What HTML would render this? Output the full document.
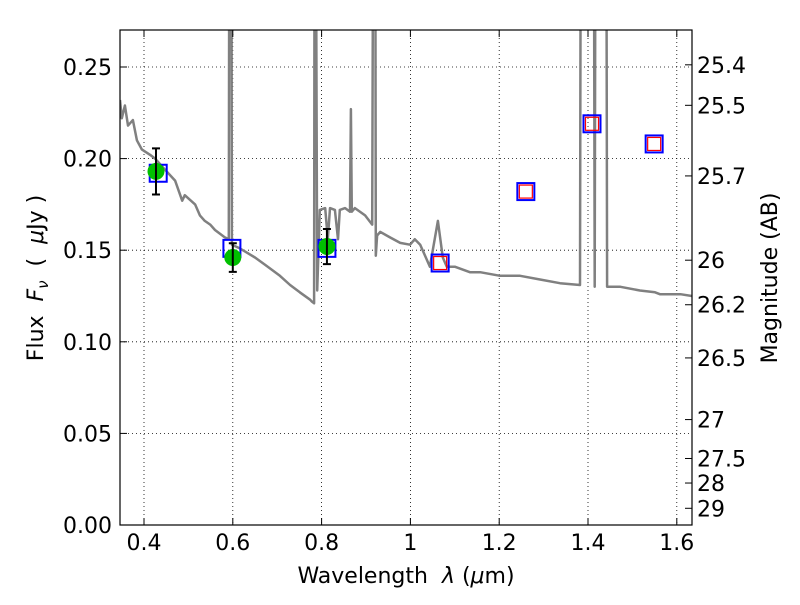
<!DOCTYPE html>
<html><head><meta charset="utf-8"><style>
html,body{margin:0;padding:0;background:#fff;}
svg text{font-family:"DejaVu Sans","Liberation Sans",sans-serif;fill:#000;}
</style></head><body>
<svg id="chart" width="800" height="600" viewBox="0 0 800 600" xmlns="http://www.w3.org/2000/svg">
<defs><clipPath id="plotclip"><rect x="120" y="30" width="572" height="495"/></clipPath></defs>
<rect x="0" y="0" width="800" height="600" fill="#fff"/>
<g id="grid"></g>
<g id="spec" clip-path="url(#plotclip)"></g>
<g id="marks" clip-path="url(#plotclip)"></g>
<rect x="120" y="30" width="572" height="495" fill="none" stroke="#000" stroke-width="1.2"/>
<g id="axes"></g>
<text x="406" y="583" text-anchor="middle" font-size="22">Wavelength&#160;&#160;<tspan font-style="italic">λ</tspan>&#160;(<tspan font-style="italic">μ</tspan>m)</text>
<text transform="translate(43,278) rotate(-90)" text-anchor="middle" font-size="22">Flux&#160;&#160;<tspan font-style="italic">F</tspan><tspan font-style="italic" font-size="15" dy="5">ν</tspan><tspan dy="-5">&#160;&#160;(&#160;&#160;</tspan><tspan font-style="italic">μ</tspan>Jy&#160;)</text>
<text transform="translate(777,278) rotate(-90)" text-anchor="middle" font-size="22">Magnitude (AB)</text>
</svg>
<script>
const specLam=[0.346,0.350,0.357,0.364,0.375,0.384,0.395,0.414,0.425,0.447,0.470,0.486,0.492,0.515,0.526,0.537,0.549,0.560,0.582,0.591,0.593,0.596,0.598,0.616,0.650,0.673,0.706,0.729,0.751,0.774,0.778,0.783,0.785,0.790,0.796,0.808,0.814,0.819,0.830,0.837,0.841,0.853,0.864,0.866,0.868,0.875,0.898,0.914,0.918,0.920,0.922,0.925,0.932,0.954,0.977,0.999,1.010,1.022,1.044,1.062,1.073,1.082,1.100,1.134,1.157,1.202,1.247,1.292,1.337,1.382,1.385,1.387,1.412,1.415,1.418,1.440,1.443,1.446,1.473,1.517,1.551,1.562,1.608,1.634];
const specFlux=[0.232,0.222,0.229,0.218,0.221,0.210,0.205,0.202,0.200,0.194,0.188,0.177,0.180,0.175,0.169,0.166,0.164,0.161,0.157,0.156,0.5,0.5,0.153,0.151,0.146,0.142,0.136,0.131,0.127,0.123,0.122,0.121,0.5,0.128,0.172,0.173,0.156,0.173,0.172,0.156,0.172,0.173,0.171,0.227,0.171,0.173,0.169,0.164,0.5,0.5,0.147,0.158,0.160,0.157,0.154,0.153,0.156,0.153,0.141,0.166,0.146,0.141,0.141,0.138,0.138,0.136,0.136,0.134,0.132,0.131,0.5,0.5,0.5,0.13,0.5,0.5,0.13,0.130,0.130,0.128,0.127,0.126,0.126,0.125];
const photLam=[0.427,0.600,0.812];
const photFlux=[0.193,0.146,0.152];
const photErr=[0.0126,0.0078,0.0096];
const obsLam=[0.432,0.598,0.812,1.067,1.260,1.409,1.549];
const obsFlux=[0.192,0.151,0.151,0.143,0.182,0.219,0.208];
const modLam=[1.067,1.260,1.409,1.549];
const modFlux=[0.143,0.182,0.219,0.208];
const xTicks=[0.4,0.6,0.8,1.0,1.2,1.4,1.6];
const xTickLabels=["0.4","0.6","0.8","1","1.2","1.4","1.6"];
const yTicks=[0,0.05,0.10,0.15,0.20,0.25];
const yTickLabels=["0.00","0.05","0.10","0.15","0.20","0.25"];
const magTicks=[25.4,25.5,25.7,26,26.2,26.5,27,27.5,28,29];
const magLabels=["25.4","25.5","25.7","26","26.2","26.5","27","27.5","28","29"];

const NS="http://www.w3.org/2000/svg";
const X=l=>144+(l-0.4)*444;
const Y=f=>525-f*1832;
function mk(tag,attrs,parent){const e=document.createElementNS(NS,tag);for(const k in attrs)e.setAttribute(k,attrs[k]);parent.appendChild(e);return e;}
const grid=document.getElementById('grid'),axes=document.getElementById('axes'),spec=document.getElementById('spec'),marks=document.getElementById('marks');
xTicks.forEach((t,i)=>{
  const x=X(t);
  const g=mk('line',{x1:x,x2:x,y1:30,y2:525,stroke:'#000','stroke-width':0.8,'stroke-dasharray':'1,3'},grid);
  
  
  mk('line',{x1:x,x2:x,y1:525,y2:518,stroke:'#000'},axes);
  mk('line',{x1:x,x2:x,y1:30,y2:37,stroke:'#000'},axes);
  const tx=mk('text',{x:x,y:550,'text-anchor':'middle','font-size':'22'},axes);
  tx.textContent=xTickLabels[i];
  
  
});
yTicks.forEach((t,i)=>{
  const y=Y(t);
  const g=mk('line',{x1:120,x2:692,y1:y,y2:y,stroke:'#000','stroke-width':0.8,'stroke-dasharray':'1,3'},grid);
  
  
  mk('line',{x1:120,x2:127,y1:y,y2:y,stroke:'#000'},axes);
  const tx=mk('text',{x:112,y:y+8,'text-anchor':'end','font-size':'22'},axes);
  tx.textContent=yTickLabels[i];
  
  
});
magTicks.forEach((m,i)=>{
  const y=Y(Math.pow(10,-0.4*(m-23.9)));
  mk('line',{x1:685,x2:692,y1:y,y2:y,stroke:'#000'},axes);
  const tx=mk('text',{x:697,y:y+8,'font-size':'22'},axes);
  tx.textContent=magLabels[i];
  
  
});
let d='';
specLam.forEach((l,i)=>{d+=(i?'L':'M')+X(l).toFixed(1)+','+Y(specFlux[i]).toFixed(1);});
const p=mk('path',{d:d,fill:'none',stroke:'#808080','stroke-width':2.5,'stroke-linejoin':'round'},spec);


obsLam.forEach((l,i)=>{
  const r=mk('rect',{x:X(l)-8.5,y:Y(obsFlux[i])-8.5,width:17,height:17,fill:'none',stroke:'#0000ff','stroke-width':2},marks);
  
  
});
modLam.forEach((l,i)=>{
  const r=mk('rect',{x:X(l)-6.5,y:Y(modFlux[i])-6.5,width:13,height:13,fill:'none',stroke:'#ff0000','stroke-width':1.2},marks);
  
  
});
photLam.forEach((l,i)=>{
  const x=X(l),y=Y(photFlux[i]);
  const c=mk('circle',{cx:x,cy:y,r:8.5,fill:'#00c000'},marks);
  
  
  const y1=Y(photFlux[i]+photErr[i]),y2=Y(photFlux[i]-photErr[i]);
  const e=mk('path',{d:`M${x},${y1}L${x},${y2}M${x-4},${y1}L${x+4},${y1}M${x-4},${y2}L${x+4},${y2}`,stroke:'#000','stroke-width':2,fill:'none'},marks);
  
  
});
</script>
</body></html>
